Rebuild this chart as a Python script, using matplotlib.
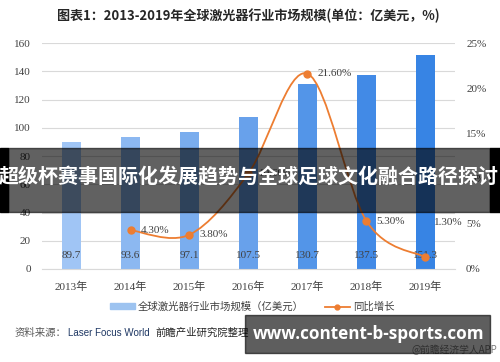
import numpy as np
import matplotlib.pyplot as plt
from matplotlib.path import Path
from matplotlib.patches import PathPatch, Rectangle
from matplotlib.lines import Line2D

plt.rcParams['font.family'] = ['Noto Sans CJK SC', 'DejaVu Sans']

years = ['2013年', '2014年', '2015年', '2016年', '2017年', '2018年', '2019年']
market = [89.7, 93.6, 97.1, 107.5, 130.7, 137.5, 151.3]
growth_years = years[1:]
growth = [4.30, 3.80, 10.60, 21.60, 5.30, 1.30]
bar_colors = ['#a0c5f5', '#8cb8f1', '#7aadee', '#68a1eb', '#5395e8', '#428ae6', '#3784e4']
line_color = '#ed7d31'
serif = ['Liberation Serif', 'Noto Sans CJK SC']

W, H = 500, 362
fig = plt.figure(figsize=(W / 100, H / 100), dpi=100)
ax = fig.add_axes([42 / W, 1 - 269 / H, (455 - 42) / W, (269 - 43) / H])
ax2 = ax.twinx()

x = np.arange(len(years))
ax.bar(x, market, width=0.32, color=bar_colors, zorder=2)
for xi, v in zip(x, market):
    ax.annotate(f'{v}', (xi, 0), xytext=(0, 13), textcoords='offset pixels',
                ha='center', va='center', fontsize=8, color='#404040', family=serif, zorder=4)

ax.set_xlim(-0.5, len(years) - 0.5)
ax.set_ylim(0, 160)
ax.set_yticks(range(0, 161, 20))
ax.grid(axis='y', color='#d9d9d9', lw=0.8, zorder=0)
ax.set_axisbelow(True)
ax.set_xticks(x)
ax.set_xticklabels(years, family=serif)
for a in (ax, ax2):
    for s in a.spines.values():
        s.set_visible(False)
ax.spines['bottom'].set_visible(True)
ax.spines['bottom'].set_color('#d9d9d9')
ax.tick_params(length=0, labelsize=8, colors='#404040', pad=8)
ax.tick_params(axis='x', pad=9)
for lab in ax.get_yticklabels():
    lab.set_family(serif)

# growth line, smoothed like the original
gx = np.array([years.index(y) for y in growth_years], dtype=float)
gy = np.array(growth)
pts = np.column_stack([gx, gy])
verts, codes = [pts[0]], [Path.MOVETO]
for i in range(len(pts) - 1):
    p0 = pts[i - 1] if i > 0 else pts[i]
    p1, p2 = pts[i], pts[i + 1]
    p3 = pts[i + 2] if i + 2 < len(pts) else pts[i + 1]
    verts += [p1 + (p2 - p0) / 6, p2 - (p3 - p1) / 6, p2]
    codes += [Path.CURVE4] * 3
ax2.add_patch(PathPatch(Path(verts, codes), fill=False, edgecolor=line_color, lw=1.3, zorder=3))
ax2.plot(gx, gy, 'o', color=line_color, ms=5, zorder=4)
offsets = [(10, 0), (10, 0), (10, 0), (10, 0), (10, 0), (8, 35)]
for xi, v, off in zip(gx, gy, offsets):
    ax2.annotate(f'{v:.2f}%', (xi, v), xytext=off, textcoords='offset pixels',
                 ha='left', va='center', fontsize=8, color='#404040', family=serif)
ax2.set_ylim(0, 25)
ax2.set_yticks(range(0, 26, 5))
ax2.set_yticklabels([f'{t}%' for t in range(0, 26, 5)], family=serif)
ax2.tick_params(length=0, labelsize=8, colors='#404040', pad=8)

fig.text(248 / W, 1 - 16 / H, '图表1：2013-2019年全球激光器行业市场规模(单位：亿美元，%)',
         ha='center', va='center', fontsize=9.4, fontweight='bold', color='#262626')

handles = [Rectangle((0, 0), 1, 1, color='#9dc3f0'),
           Line2D([], [], color=line_color, marker='o', ms=3.5, lw=1.3)]
fig.legend(handles, ['全球激光器行业市场规模（亿美元）', '同比增长'], loc='center',
           bbox_to_anchor=(252 / W, 1 - 307 / H), ncol=2, frameon=False, fontsize=7.5,
           handlelength=2.4, handleheight=0.5, columnspacing=2.0, handletextpad=0.3,
           labelcolor='#404040')

fig.text(15 / W, 1 - 333 / H, '资料来源：', ha='left', va='center', fontsize=7.5, color='#595959')
fig.text(68 / W, 1 - 333 / H, 'Laser Focus World', ha='left', va='center', fontsize=7,
         color='#1f3864', family=['Liberation Sans', 'DejaVu Sans'])
fig.text(155 / W, 1 - 333 / H, '前瞻产业研究院整理', ha='left', va='center', fontsize=7.5, color='#262626')
fig.text(497 / W, 1 - 350 / H, '@前瞻经济学人APP', ha='right', va='center', fontsize=7, color='#7f7f7f')

# overlay banners
band_y, band_h = 1 - 212 / H, 64 / H
fig.patches.append(Rectangle((0, band_y), 8 / W, band_h, transform=fig.transFigure,
                             color='black', zorder=10))
fig.patches.append(Rectangle((490 / W, band_y), 10 / W, band_h, transform=fig.transFigure,
                             color='black', zorder=10))
fig.patches.append(Rectangle((8 / W, band_y), 482 / W, band_h, transform=fig.transFigure,
                             color='black', alpha=0.62, zorder=10))
fig.text(249 / W, 1 - 177 / H, '超级杯赛事国际化发展趋势与全球足球文化融合路径探讨',
         ha='center', va='center', fontsize=14.4, fontweight='bold', color='white', zorder=12)
fig.patches.append(Rectangle((245 / W, 1 - 353 / H), 245 / W, 38 / H, transform=fig.transFigure,
                             color='black', alpha=0.63, zorder=10))
fig.text(369 / W, 1 - 334 / H, 'www.content-b-sports.com', ha='center', va='center',
         fontsize=12.3, fontweight='bold', color='white', family=['Open Sans', 'DejaVu Sans'], zorder=12)

fig.savefig('out.png', dpi=100)
